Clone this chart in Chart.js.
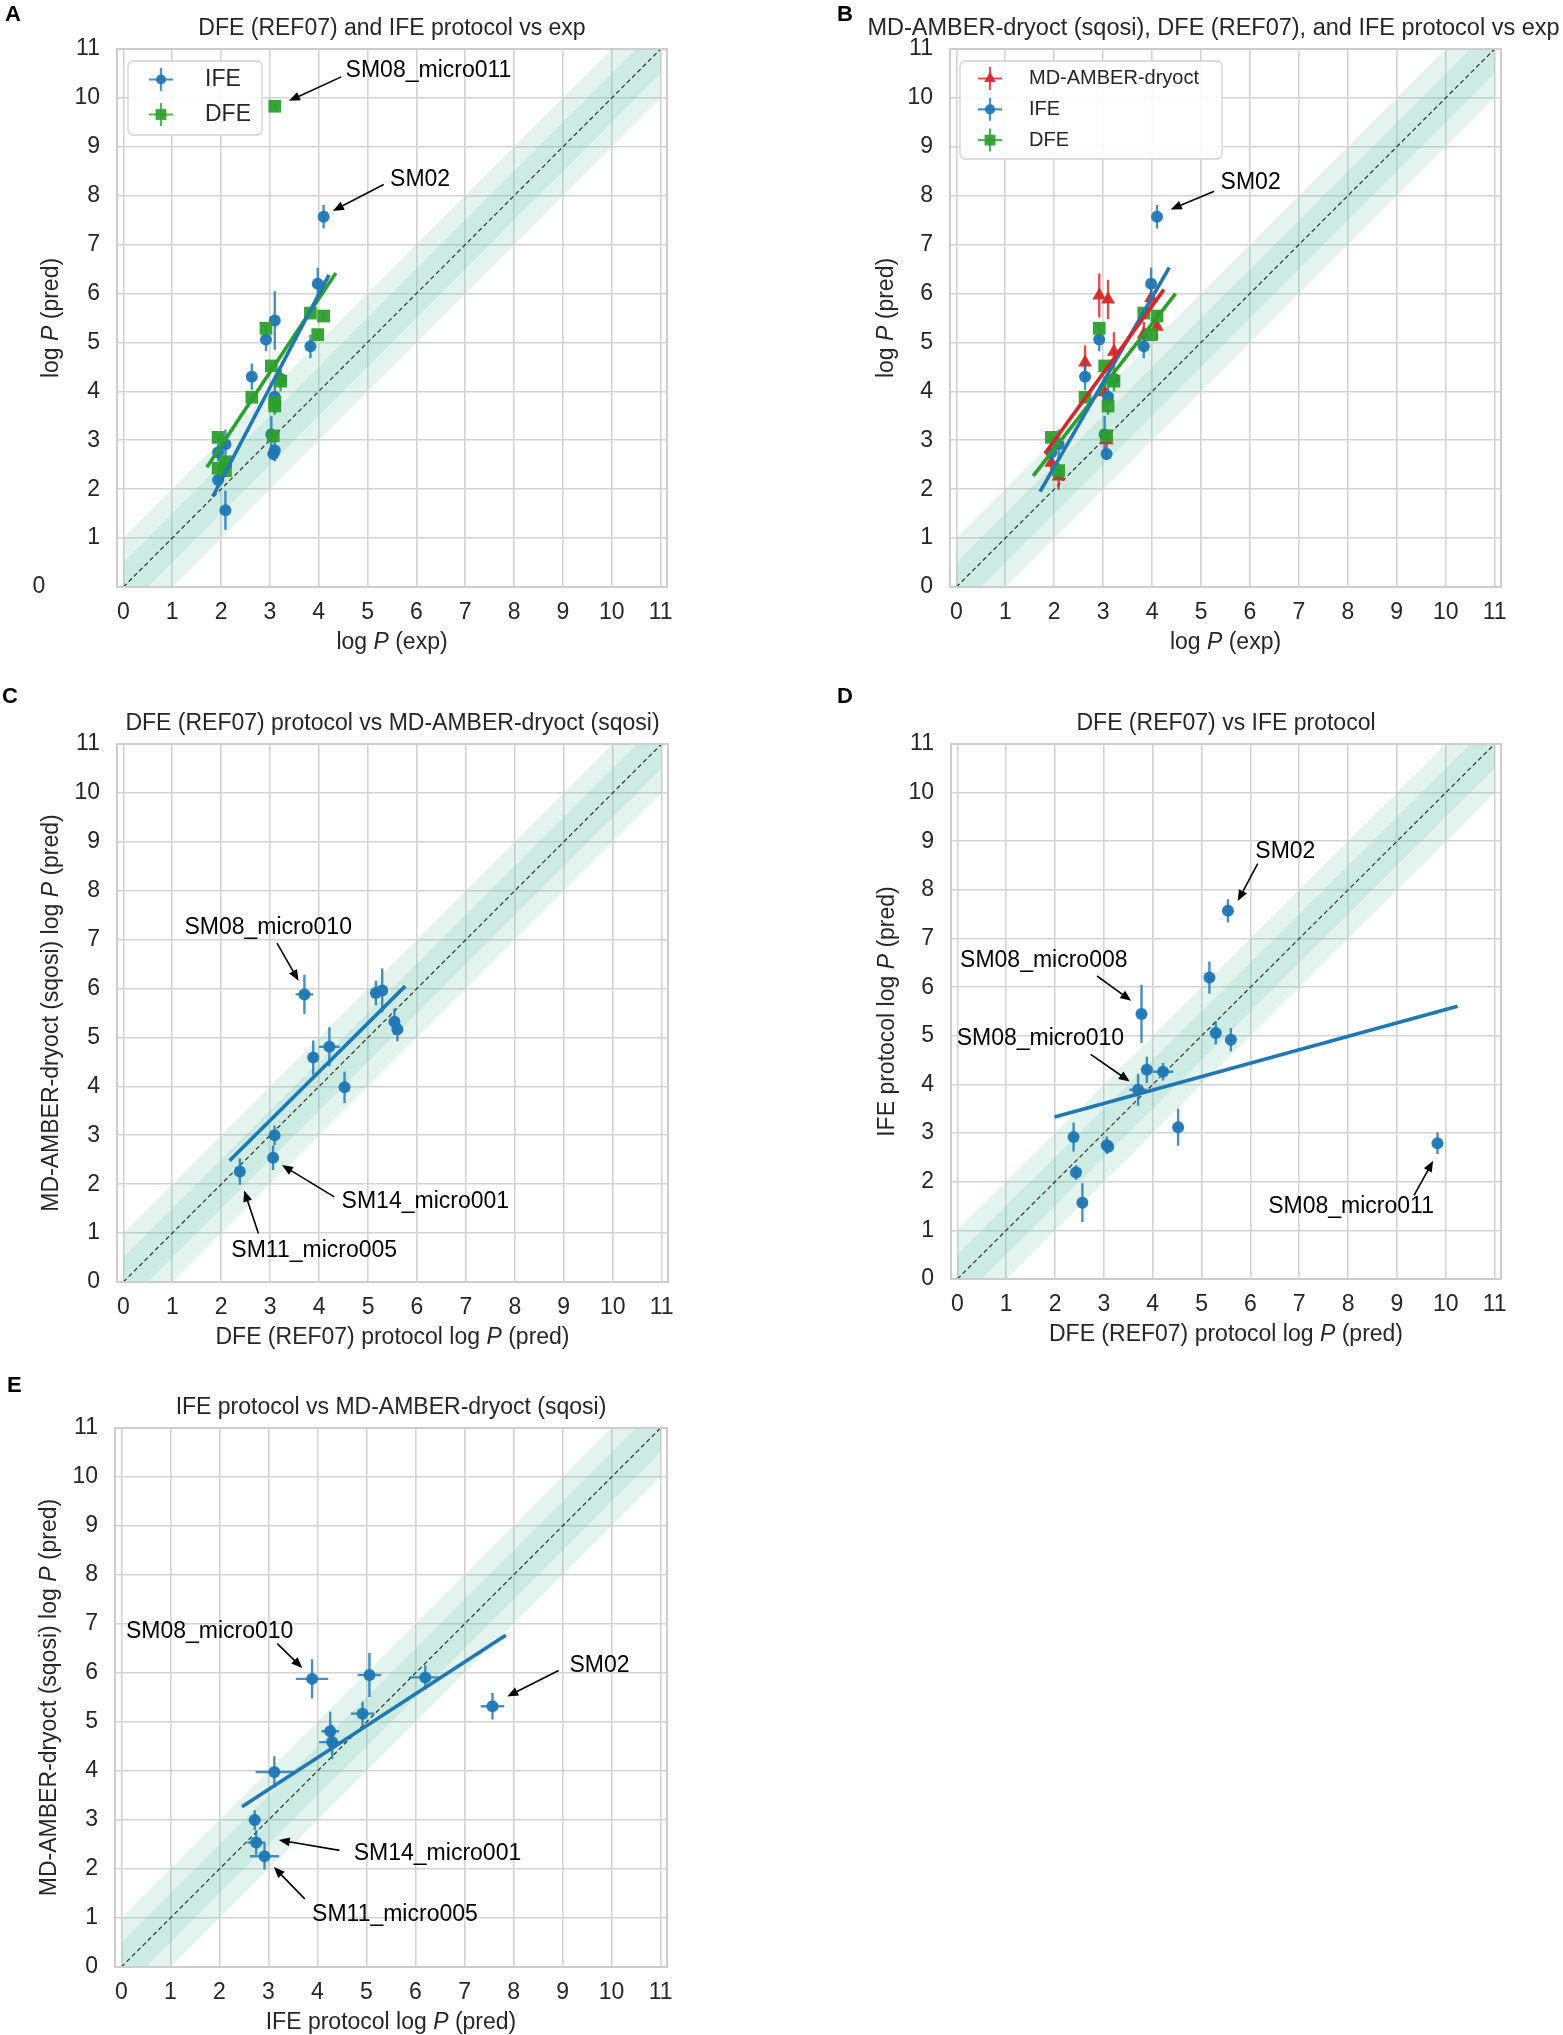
<!DOCTYPE html>
<html>
<head>
<meta charset="utf-8">
<script src="https://cdn.jsdelivr.net/npm/chart.js@4.4.1/dist/chart.umd.min.js"></script>
<style>
  html, body { margin: 0; padding: 0; background: #fff; width: 1563px; height: 2035px; overflow: hidden; }
</style>
</head>
<body>
<script>
// logP values per compound (same order in every array); null = not computed by that method
const compoundLabels = ['SM14_micro001', 'SM11_micro005', '', '', '', '', '', '', 'SM08_micro010', 'SM08_micro008', 'SM08_micro011', '', '', '', 'SM02'];
const logPExp = [1.94, 2.09, 1.94, 2.09, 2.63, 2.92, 3.03, 3.07, 3.10, 3.10, 3.10, 3.22, 3.83, 3.98, 4.10];
const ifePred = [2.75, 2.92, 2.19, 1.57, 4.30, 5.06, 3.12, 2.72, 3.89, 5.45, 2.79, 4.26, 4.92, 6.20, 7.57];
const ifeErr  = [0.18, 0.30, 0.15, 0.40, 0.27, 0.24, 0.38, 0.12, 0.33, 0.60, 0.22, 0.18, 0.24, 0.33, 0.24];
const dfePred = [3.06, 2.38, 2.43, 2.56, 3.88, 5.29, 4.52, 3.09, 3.70, 3.77, 9.83, 4.21, 5.60, 5.16, 5.54];
const dfeErr  = [0.07, 0.07, 0.07, 0.07, 0.07, 0.08, 0.07, 0.07, 0.18, 0.10, 0.06, 0.21, 0.07, 0.07, 0.07];
const mdPred  = [2.54, 2.26, null, null, 4.59, 5.96, 3.98, 3.00, 5.88, null, null, 4.81, 5.17, 5.91, 5.32];
const mdErr   = [0.25, 0.27, null, null, 0.35, 0.45, 0.32, 0.20, 0.40, null, null, 0.40, 0.25, 0.25, 0.27];

// regression lines, [x, y] end points
const fitExpIfe = [[1.83, 1.85], [4.21, 6.38]];
const fitExpDfe = [[1.71, 2.45], [4.35, 6.42]];
const fitSubMd  = [[1.81, 2.73], [4.24, 6.08]];
const fitSubIfe = [[1.71, 1.95], [4.35, 6.53]];
const fitSubDfe = [[1.57, 2.27], [4.48, 6.00]];
const fitDfeMd  = [[2.17, 2.48], [5.76, 6.05]];
const fitDfeIfe = [[1.99, 3.33], [10.24, 5.61]];
const fitIfeMd  = [[2.46, 3.27], [7.84, 6.77]];

const tickValues = [0, 1, 2, 3, 4, 5, 6, 7, 8, 9, 10, 11];

const F = "'Liberation Sans', Arial, Helvetica, sans-serif";
const FS = 23;
const TXT = '#262626';
Chart.defaults.font.family = F;
Chart.defaults.font.size = FS;
Chart.defaults.color = TXT;

const styles = {
  MD:  { label: 'MD-AMBER-dryoct', rgb: '214,39,40', pointStyle: 'triangle', radius: 8 },
  IFE: { label: 'IFE', rgb: '31,119,180', pointStyle: 'circle', radius: 6 },
  DFE: { label: 'DFE', rgb: '44,160,44', pointStyle: 'rect', radius: 9 }
};

function pts(xs, ys, exs, eys, mask) {
  const out = [];
  xs.forEach((x, i) => {
    if (x == null || ys[i] == null) return;
    if (mask && mask[i] == null) return;
    out.push({ x: x, y: ys[i], ex: exs ? exs[i] : 0, ey: eys ? eys[i] : 0 });
  });
  return out;
}

const logPItal = (pre, post) => [[pre + 'log ', 0], ['P', 1], [' (' + post + ')', 0]];

const panels = [
  {
    box: [0, 0, 781, 680], frame: [117, 49, 667, 587], letter: ['A', 5, 21],
    title: 'DFE (REF07) and IFE protocol vs exp', titleSize: 23, titleDx: 0,
    xTitle: logPItal('', 'exp'), yTitle: logPItal('', 'pred'), yTitleX: 52, hideYZero: true,
    series: [['IFE', pts(logPExp, ifePred, null, ifeErr)], ['DFE', pts(logPExp, dfePred, null, dfeErr)]],
    fits: [['IFE', fitExpIfe], ['DFE', fitExpDfe]],
    legend: { x: 128, y: 61, w: 134, h: 74, fs: 23, row0: 18.5, rowH: 35, mx: 33, tx: 77, items: ['IFE', 'DFE'] },
    notes: [
      { text: 'SM08_micro011', tx: 4.55, ty: 10.55, align: 'left', from: [4.46, 10.43], to: [3.39, 9.94] },
      { text: 'SM02', tx: 5.46, ty: 8.32, align: 'left', from: [5.33, 8.23], to: [4.29, 7.69] }
    ]
  },
  {
    box: [781, 0, 782, 680], frame: [950, 49, 1501, 587], letter: ['B', 837, 21],
    title: 'MD-AMBER-dryoct (sqosi), DFE (REF07), and IFE protocol vs exp', titleSize: 23.5, titleDx: -12,
    xTitle: logPItal('', 'exp'), yTitle: logPItal('', 'pred'), yTitleX: 887,
    series: [['MD', pts(logPExp, mdPred, null, mdErr)],
             ['IFE', pts(logPExp, ifePred, null, ifeErr, mdPred)],
             ['DFE', pts(logPExp, dfePred, null, dfeErr, mdPred)]],
    fits: [['MD', fitSubMd], ['IFE', fitSubIfe], ['DFE', fitSubDfe]],
    legend: { x: 960, y: 61, w: 262, h: 98, fs: 20, row0: 17.5, rowH: 30.8, mx: 30, tx: 69, items: ['MD', 'IFE', 'DFE'] },
    notes: [
      { text: 'SM02', tx: 5.4, ty: 8.26, align: 'left', from: [5.27, 8.09], to: [4.38, 7.72] }
    ]
  },
  {
    box: [0, 680, 781, 680], frame: [117, 744, 668, 1282], letter: ['C', 2, 703],
    title: 'DFE (REF07) protocol vs MD-AMBER-dryoct (sqosi)', titleSize: 23, titleDx: 0,
    xTitle: logPItal('DFE (REF07) protocol ', 'pred'), yTitle: logPItal('MD-AMBER-dryoct (sqosi) ', 'pred'), yTitleX: 52,
    series: [['IFE', pts(dfePred, mdPred, dfeErr, mdErr)]],
    fits: [['IFE', fitDfeMd]],
    notes: [
      { text: 'SM08_micro010', tx: 2.96, ty: 7.24, align: 'center', from: [3.14, 6.93], to: [3.58, 6.16] },
      { text: 'SM14_micro001', tx: 4.46, ty: 1.65, align: 'left', from: [4.31, 1.74], to: [3.24, 2.39] },
      { text: 'SM11_micro005', tx: 3.9, ty: 0.64, align: 'center', from: [2.76, 0.99], to: [2.47, 1.87] }
    ]
  },
  {
    box: [781, 680, 782, 680], frame: [951, 744, 1501, 1279], letter: ['D', 837, 703],
    title: 'DFE (REF07) vs IFE protocol', titleSize: 23, titleDx: 0,
    xTitle: logPItal('DFE (REF07) protocol ', 'pred'), yTitle: logPItal('IFE protocol ', 'pred'), yTitleX: 888,
    series: [['IFE', pts(dfePred, ifePred, dfeErr, ifeErr)]],
    fits: [['IFE', fitDfeIfe]],
    notes: [
      { text: 'SM02', tx: 6.1, ty: 8.79, align: 'left', from: [6.15, 8.54], to: [5.74, 7.77] },
      { text: 'SM08_micro008', tx: 1.77, ty: 6.54, align: 'center', from: [2.86, 6.23], to: [3.56, 5.72] },
      { text: 'SM08_micro010', tx: 1.70, ty: 4.95, align: 'center', from: [2.73, 4.62], to: [3.53, 4.06] },
      { text: 'SM08_micro011', tx: 8.06, ty: 1.48, align: 'center', from: [9.35, 1.72], to: [9.74, 2.43] }
    ]
  },
  {
    box: [0, 1360, 781, 675], frame: [115, 1428, 667, 1967], letter: ['E', 7, 1392],
    title: 'IFE protocol vs MD-AMBER-dryoct (sqosi)', titleSize: 23, titleDx: 0,
    xTitle: logPItal('IFE protocol ', 'pred'), yTitle: logPItal('MD-AMBER-dryoct (sqosi) ', 'pred'), yTitleX: 50,
    series: [['IFE', pts(ifePred, mdPred, ifeErr, mdErr)]],
    fits: [['IFE', fitIfeMd]],
    notes: [
      { text: 'SM08_micro010', tx: 1.80, ty: 6.84, align: 'center', from: [3.18, 6.6], to: [3.69, 6.1] },
      { text: 'SM02', tx: 9.14, ty: 6.14, align: 'left', from: [8.92, 6.05], to: [7.87, 5.52] },
      { text: 'SM14_micro001', tx: 4.74, ty: 2.32, align: 'left', from: [4.45, 2.38], to: [3.21, 2.59] },
      { text: 'SM11_micro005', tx: 5.58, ty: 1.06, align: 'center', from: [3.74, 1.39], to: [3.11, 2.04] }
    ]
  }
];

function drawRich(ctx, parts, cx, cy, rotate) {
  ctx.save();
  ctx.translate(cx, cy);
  if (rotate) ctx.rotate(-Math.PI / 2);
  ctx.textBaseline = 'middle';
  ctx.textAlign = 'left';
  ctx.fillStyle = TXT;
  const fonts = parts.map(p => (p[1] ? 'italic ' : '') + FS + 'px ' + F);
  const widths = parts.map((p, i) => { ctx.font = fonts[i]; return ctx.measureText(p[0]).width; });
  let xx = -widths.reduce((a, b) => a + b, 0) / 2;
  parts.forEach((p, i) => { ctx.font = fonts[i]; ctx.fillText(p[0], xx, 0); xx += widths[i]; });
  ctx.restore();
}

function drawArrow(ctx, x0, y0, x1, y1) {
  const a = Math.atan2(y1 - y0, x1 - x0), hl = 11, hw = 4.5;
  const c = Math.cos(a), s = Math.sin(a);
  ctx.beginPath();
  ctx.moveTo(x0, y0);
  ctx.lineTo(x1 - hl * 0.8 * c, y1 - hl * 0.8 * s);
  ctx.stroke();
  ctx.beginPath();
  ctx.moveTo(x1, y1);
  ctx.lineTo(x1 - hl * c - hw * s, y1 - hl * s + hw * c);
  ctx.lineTo(x1 - hl * c + hw * s, y1 - hl * s - hw * c);
  ctx.closePath();
  ctx.fill();
}

function roundBox(ctx, x, y, w, h, r) {
  ctx.beginPath();
  ctx.moveTo(x + r, y);
  ctx.arcTo(x + w, y, x + w, y + h, r);
  ctx.arcTo(x + w, y + h, x, y + h, r);
  ctx.arcTo(x, y + h, x, y, r);
  ctx.arcTo(x, y, x + w, y, r);
  ctx.closePath();
}

function makeDecor(p) {
  const bx = p.box[0], by = p.box[1];
  return {
    id: 'decor',
    beforeDatasetsDraw(chart) {
      const { ctx, chartArea: a, scales: { x, y } } = chart;
      ctx.save();
      ctx.beginPath();
      ctx.rect(a.left, a.top, a.width, a.height);
      ctx.clip();
      // +-1 and +-0.5 agreement bands
      [1, 0.5].forEach(w => {
        ctx.beginPath();
        ctx.moveTo(x.getPixelForValue(0), y.getPixelForValue(-w));
        ctx.lineTo(x.getPixelForValue(11), y.getPixelForValue(11 - w));
        ctx.lineTo(x.getPixelForValue(11), y.getPixelForValue(11 + w));
        ctx.lineTo(x.getPixelForValue(0), y.getPixelForValue(w));
        ctx.closePath();
        ctx.fillStyle = 'rgba(102,194,165,0.18)';
        ctx.fill();
      });
      ctx.setLineDash([4.5, 3]);
      ctx.lineWidth = 1.1;
      ctx.strokeStyle = '#222';
      ctx.beginPath();
      ctx.moveTo(x.getPixelForValue(0), y.getPixelForValue(0));
      ctx.lineTo(x.getPixelForValue(11), y.getPixelForValue(11));
      ctx.stroke();
      ctx.restore();
      ctx.save();
      ctx.strokeStyle = '#cdcdcd';
      ctx.lineWidth = 2;
      ctx.strokeRect(a.left, a.top, a.width, a.height);
      ctx.restore();
    },
    beforeDatasetDraw(chart, args) {
      const ds = chart.data.datasets[args.index];
      if (!ds.errColor) return;
      const { ctx, scales: { x, y } } = chart;
      ctx.save();
      ctx.strokeStyle = ds.errColor;
      ctx.lineWidth = 2.4;
      ds.data.forEach(d => {
        const px = x.getPixelForValue(d.x), py = y.getPixelForValue(d.y);
        ctx.beginPath();
        if (d.ey) { ctx.moveTo(px, y.getPixelForValue(d.y - d.ey)); ctx.lineTo(px, y.getPixelForValue(d.y + d.ey)); }
        if (d.ex) { ctx.moveTo(x.getPixelForValue(d.x - d.ex), py); ctx.lineTo(x.getPixelForValue(d.x + d.ex), py); }
        ctx.stroke();
      });
      ctx.restore();
    },
    afterDraw(chart) {
      const { ctx, chartArea: a, scales: { x, y } } = chart;
      const cx = (a.left + a.right) / 2, cy = (a.top + a.bottom) / 2;
      ctx.save();
      // panel title
      ctx.font = p.titleSize + 'px ' + F;
      ctx.fillStyle = TXT;
      ctx.textAlign = 'center';
      ctx.textBaseline = 'middle';
      ctx.fillText(p.title, cx + p.titleDx, a.top - 20);
      // panel letter
      ctx.font = 'bold 22px ' + F;
      ctx.fillStyle = '#000';
      ctx.textAlign = 'left';
      ctx.textBaseline = 'alphabetic';
      ctx.fillText(p.letter[0], p.letter[1] - bx, p.letter[2] - by);
      // stray zero label of panel A
      if (p.hideYZero) {
        ctx.font = FS + 'px ' + F;
        ctx.fillStyle = TXT;
        ctx.textAlign = 'center';
        ctx.textBaseline = 'middle';
        ctx.fillText('0', 39 - bx, y.getPixelForValue(0));
      }
      ctx.restore();
      drawRich(ctx, p.xTitle, cx, a.bottom + 56, false);
      drawRich(ctx, p.yTitle, p.yTitleX - bx, cy, true);

      // legend
      if (p.legend) {
        const L = p.legend, lx = L.x - bx, ly = L.y - by;
        ctx.save();
        roundBox(ctx, lx, ly, L.w, L.h, 5);
        ctx.fillStyle = 'rgba(255,255,255,0.85)';
        ctx.fill();
        ctx.strokeStyle = '#d2d2d2';
        ctx.lineWidth = 1.3;
        ctx.stroke();
        L.items.forEach((k, i) => {
          const st = styles[k], my = ly + L.row0 + i * L.rowH, mx = lx + L.mx;
          ctx.strokeStyle = 'rgba(' + st.rgb + ',0.8)';
          ctx.lineWidth = 2.2;
          ctx.beginPath();
          ctx.moveTo(mx - 12, my); ctx.lineTo(mx + 12, my);
          ctx.moveTo(mx, my - 11.5); ctx.lineTo(mx, my + 11.5);
          ctx.stroke();
          ctx.fillStyle = 'rgba(' + st.rgb + ',0.92)';
          Chart.helpers.drawPoint(ctx, { pointStyle: st.pointStyle, radius: st.radius * 0.85, rotation: 0, borderWidth: 0 }, mx, my);
          ctx.fillStyle = TXT;
          ctx.font = L.fs + 'px ' + F;
          ctx.textAlign = 'left';
          ctx.textBaseline = 'middle';
          ctx.fillText(st.label, lx + L.tx, my);
        });
        ctx.restore();
      }

      // annotations
      ctx.save();
      ctx.fillStyle = '#000';
      ctx.strokeStyle = '#000';
      ctx.lineWidth = 1.6;
      ctx.font = FS + 'px ' + F;
      ctx.textBaseline = 'middle';
      p.notes.forEach(n => {
        ctx.textAlign = n.align;
        ctx.fillText(n.text, x.getPixelForValue(n.tx), y.getPixelForValue(n.ty));
        drawArrow(ctx, x.getPixelForValue(n.from[0]), y.getPixelForValue(n.from[1]),
                  x.getPixelForValue(n.to[0]), y.getPixelForValue(n.to[1]));
      });
      ctx.restore();
    }
  };
}

panels.forEach(p => {
  const [bx, by, bw, bh] = p.box;
  const div = document.createElement('div');
  div.style.cssText = 'position:absolute;left:' + bx + 'px;top:' + by + 'px;width:' + bw + 'px;height:' + bh + 'px';
  const cv = document.createElement('canvas');
  div.appendChild(cv);
  document.body.appendChild(div);
  const fl = p.frame[0] - bx, ft = p.frame[1] - by, fr = p.frame[2] - bx, fb = p.frame[3] - by;

  const datasets = [];
  p.series.forEach(([k, data], i) => {
    const st = styles[k];
    datasets.push({
      label: st.label,
      data: data,
      order: 10 - i,
      pointStyle: st.pointStyle,
      pointRadius: st.radius,
      pointBorderWidth: 0,
      backgroundColor: 'rgba(' + st.rgb + ',0.95)',
      borderColor: 'rgba(' + st.rgb + ',0.95)',
      errColor: 'rgba(' + st.rgb + ',0.82)'
    });
  });
  p.fits.forEach(([k, line]) => {
    const st = styles[k];
    datasets.push({
      label: st.label + ' fit',
      data: line.map(q => ({ x: q[0], y: q[1] })),
      order: 1,
      showLine: true,
      pointRadius: 0,
      borderWidth: 3.6,
      borderColor: 'rgb(' + st.rgb + ')',
      backgroundColor: 'rgb(' + st.rgb + ')'
    });
  });

  const grid = { color: '#d3d3d3', lineWidth: 1.6, drawTicks: false };
  new Chart(cv, {
    type: 'scatter',
    data: { datasets: datasets },
    options: {
      responsive: true,
      maintainAspectRatio: false,
      animation: false,
      events: [],
      layout: { padding: { left: 0, top: ft, right: bw - fr, bottom: 0 } },
      plugins: { legend: { display: false }, tooltip: { enabled: false } },
      scales: {
        x: {
          type: 'linear', min: -0.13, max: 11.13,
          afterBuildTicks: s => { s.ticks = tickValues.map(v => ({ value: v })); },
          afterFit: s => { s.height = bh - fb; },
          grid: grid, border: { display: false },
          ticks: { padding: 12, autoSkip: false, maxRotation: 0, color: TXT, callback: v => String(v) }
        },
        y: {
          type: 'linear', min: 0, max: 11,
          afterBuildTicks: s => { s.ticks = tickValues.map(v => ({ value: v })); },
          afterFit: s => { s.width = fl; },
          grid: grid, border: { display: false },
          ticks: { padding: 17, autoSkip: false, color: TXT, callback: v => (p.hideYZero && v === 0) ? '' : String(v) }
        }
      }
    },
    plugins: [makeDecor(p)]
  });
});
</script>
</body>
</html>
